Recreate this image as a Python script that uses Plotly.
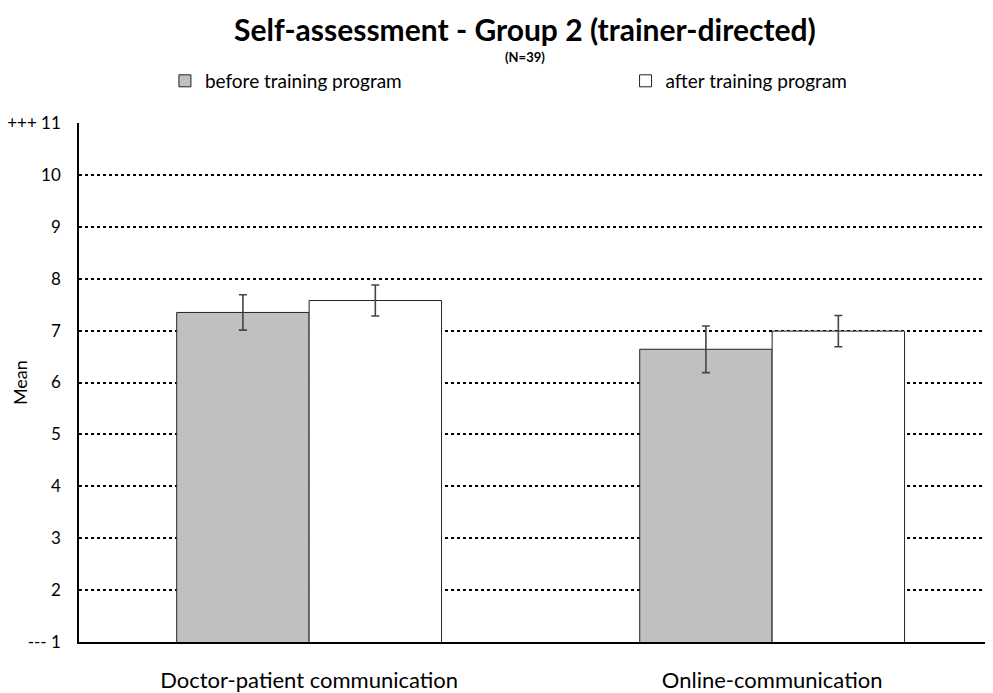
import plotly.graph_objects as go

categories = ["Doctor-patient communication", "Online-communication"]
before_mean = [7.35, 6.64]
before_err = [0.34, 0.45]
after_mean = [7.58, 6.99]
after_err = [0.30, 0.30]
tick_vals = [1, 2, 3, 4, 5, 6, 7, 8, 9, 10, 11]
tick_text = ["--- 1", "2", "3", "4", "5", "6", "7", "8", "9", "10", "+++ 11"]

FONT = "Lato"

fig = go.Figure()
fig.add_trace(go.Bar(
    name="before training program", x=categories, y=before_mean,
    marker=dict(color="#c0c0c0", line=dict(color="#222222", width=1)),
    error_y=dict(type="data", array=before_err, color="#444444", thickness=1.6, width=4),
    legend="legend",
))
fig.add_trace(go.Bar(
    name="after training program", x=categories, y=after_mean,
    marker=dict(color="#ffffff", line=dict(color="#222222", width=1)),
    error_y=dict(type="data", array=after_err, color="#444444", thickness=1.6, width=4),
    legend="legend2",
))

fig.update_layout(
    width=985, height=685,
    margin=dict(l=71, r=0, t=115, b=51, autoexpand=False),
    plot_bgcolor="white", paper_bgcolor="white",
    barmode="group", bargap=0.428, bargroupgap=0,
    font=dict(family=FONT, color="#000000", size=17),
    showlegend=True,
    legend=dict(x=0.094, y=1.081, xanchor="left", yanchor="middle",
                font=dict(size=19, family=FONT), bgcolor="rgba(0,0,0,0)"),
    legend2=dict(x=0.598, y=1.081, xanchor="left", yanchor="middle",
                 font=dict(size=19, family=FONT), bgcolor="rgba(0,0,0,0)"),
    annotations=[
        dict(text="<b>Self-assessment - Group 2 (trainer-directed)</b>", xref="paper", yref="paper",
             x=0.488, y=1.181, xanchor="center", yanchor="middle", showarrow=False,
             font=dict(size=30, family=FONT)),
        dict(text="<b>(N=39)</b>", xref="paper", yref="paper",
             x=0.488, y=1.127, xanchor="center", yanchor="middle", showarrow=False,
             font=dict(size=13, family=FONT)),
        dict(text="Mean", xref="paper", yref="paper",
             x=-0.065, y=0.5, xanchor="center", yanchor="middle", showarrow=False,
             textangle=-90, font=dict(size=18, family=FONT)),
    ],
)
fig.update_xaxes(
    range=[-0.497, 1.477], showline=True, linecolor="#000000", linewidth=1.5,
    showgrid=False, ticks="", tickfont=dict(size=22, family=FONT),
    ticklabelstandoff=18, automargin=False,
)
fig.update_yaxes(
    range=[1, 11], tickvals=tick_vals, ticktext=tick_text,
    showline=True, linecolor="#000000", linewidth=1.5,
    showgrid=True, gridcolor="#000000", gridwidth=1.5, griddash="dot",
    zeroline=False, ticks="", tickfont=dict(size=17, family=FONT),
    ticklabelstandoff=13, automargin=False,
)

fig.write_html("out.html")
